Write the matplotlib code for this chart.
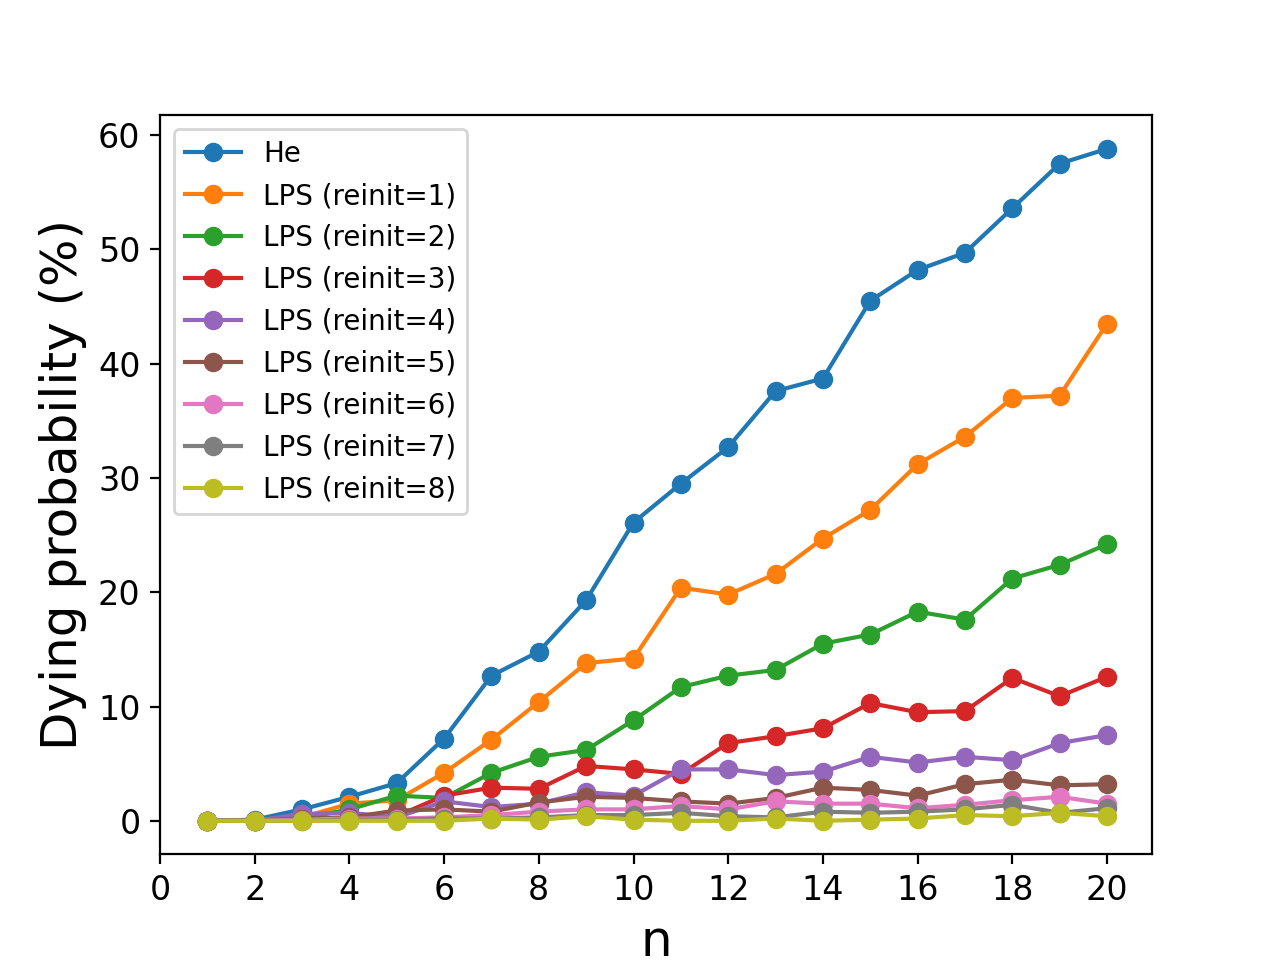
import numpy as np
import matplotlib
matplotlib.use("Agg")
import matplotlib.pyplot as plt

n = list(range(1, 21))

he = [0, 0.1, 1.0, 2.1, 3.3, 7.2, 12.7, 14.8, 19.3, 26.1,
      29.5, 32.7, 37.6, 38.7, 45.5, 48.2, 49.7, 53.6, 57.5, 58.8]
lps1 = [0, 0, 0.3, 1.5, 1.8, 4.2, 7.1, 10.4, 13.8, 14.2,
        20.4, 19.8, 21.6, 24.7, 27.2, 31.2, 33.6, 37.0, 37.2, 43.5]
lps2 = [0, 0, 0.2, 1.0, 2.2, 2.0, 4.2, 5.6, 6.2, 8.8,
        11.7, 12.7, 13.2, 15.5, 16.3, 18.3, 17.6, 21.2, 22.4, 24.2]
lps3 = [0, 0, 0.1, 0.2, 0.4, 2.2, 2.9, 2.8, 4.8, 4.5,
        4.1, 6.8, 7.4, 8.1, 10.3, 9.5, 9.6, 12.5, 10.9, 12.6]
lps4 = [0, 0, 0.6, 0.7, 0.3, 1.7, 1.2, 1.5, 2.5, 2.2,
        4.5, 4.5, 4.0, 4.3, 5.6, 5.1, 5.6, 5.3, 6.8, 7.5]
lps5 = [0, 0, 0.2, 0.3, 0.9, 1.0, 0.8, 1.6, 2.1, 2.0,
        1.7, 1.5, 2.0, 2.9, 2.7, 2.2, 3.2, 3.6, 3.1, 3.2]
lps6 = [0, 0, 0.1, 0.2, 0.2, 0.3, 0.5, 0.8, 1.0, 1.0,
        1.3, 1.0, 1.7, 1.5, 1.5, 1.1, 1.4, 1.8, 2.1, 1.5]
lps7 = [0, 0, 0, 0.1, 0.1, 0.2, 0.2, 0.3, 0.5, 0.5,
        0.7, 0.4, 0.3, 0.8, 0.7, 0.8, 1.0, 1.4, 0.7, 1.1]
lps8 = [0, 0, 0, 0, 0, 0, 0.2, 0.1, 0.4, 0.1,
        0, 0, 0.2, 0, 0.1, 0.2, 0.5, 0.4, 0.7, 0.4]

series = [he, lps1, lps2, lps3, lps4, lps5, lps6, lps7, lps8]
labels = ["He"] + [f"LPS (reinit={i})" for i in range(1, 9)]

plt.figure(figsize=(6.4, 4.8), dpi=200)
for vals, lab in zip(series, labels):
    plt.plot(n, vals, marker="o", label=lab)

plt.xlim(left=0)
plt.xticks(range(0, 21, 2), fontsize=12)
plt.yticks(fontsize=12)
plt.xlabel("n", fontsize=18)
plt.ylabel("Dying probability (%)", fontsize=18)
plt.legend(fontsize=10)
plt.savefig("out.png", dpi=200)
